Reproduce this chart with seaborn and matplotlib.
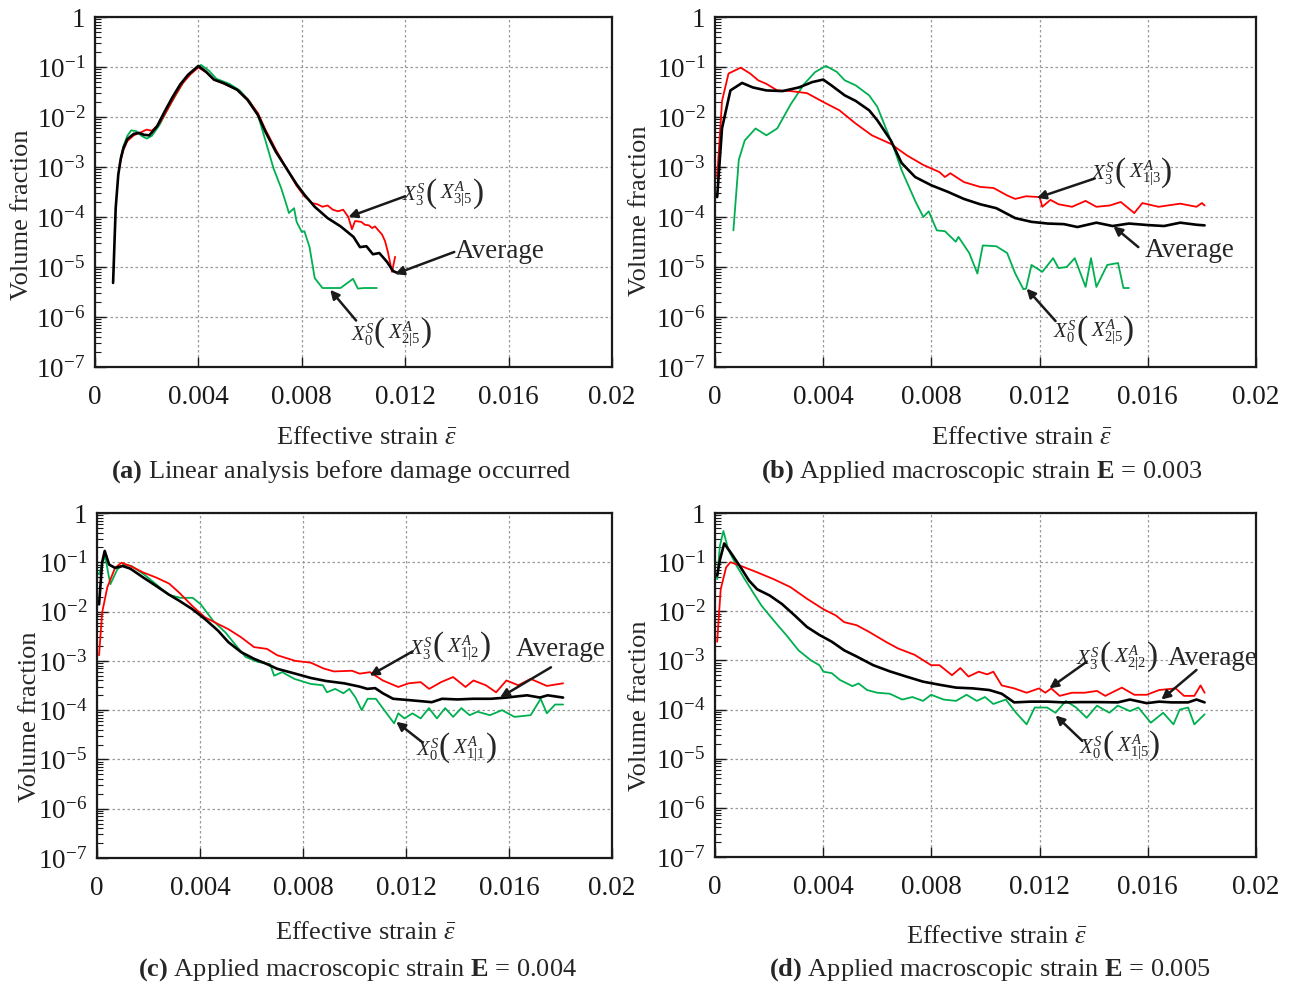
import matplotlib
matplotlib.use("Agg")
import matplotlib.pyplot as plt
from matplotlib.ticker import LogLocator, NullFormatter, FixedLocator, FixedFormatter
import seaborn as sns
import pandas as pd

# ---------------- data ----------------
# Panel (a) Linear analysis before damage occurred
A_X_AVG = [0.00070, 0.00080, 0.00090, 0.00100, 0.00110, 0.00125, 0.00150, 0.00170, 0.00190, 0.00210,
           0.00240, 0.00270, 0.00300, 0.00330, 0.00360, 0.00400, 0.00430, 0.00460, 0.00500, 0.00550,
           0.00590, 0.00630, 0.00660, 0.00700, 0.00740, 0.00780, 0.00810, 0.00850, 0.00900, 0.00950,
           0.01000, 0.01025, 0.01050, 0.01075, 0.01100, 0.01130, 0.01153, 0.01170]
A_Y_AVG = [4.8e-6, 1.5e-4, 7e-4, 1.5e-3, 2.4e-3, 3.6e-3, 4.6e-3, 4.8e-3, 4.4e-3, 4.3e-3,
           6.5e-3, 1.3e-2, 2.5e-2, 4.5e-2, 7.0e-2, 0.105, 0.080, 0.056, 0.047, 0.035,
           0.022, 0.011, 5.0e-3, 2.0e-3, 9.5e-4, 4.5e-4, 2.8e-4, 1.6e-4, 9.5e-5, 6.5e-5,
           4.0e-5, 2.5e-5, 2.6e-5, 1.8e-5, 1.9e-5, 1.26e-5, 8.3e-6, 7.6e-6]
A_X_RED = [0.00095, 0.00110, 0.00125, 0.00150, 0.00180, 0.00200, 0.00220, 0.00250, 0.00280, 0.00310,
           0.00340, 0.00370, 0.00400, 0.00430, 0.00460, 0.00500, 0.00550, 0.00590, 0.00630, 0.00660,
           0.00700, 0.00740, 0.00780, 0.00810, 0.00840, 0.00860, 0.00880, 0.00900, 0.00920, 0.00940,
           0.00960, 0.00980, 0.00994, 0.01006, 0.01030, 0.01044, 0.01060, 0.01072, 0.01083, 0.01095,
           0.01110, 0.01122, 0.01133, 0.01149, 0.01161]
A_Y_RED = [1.1e-3, 2.2e-3, 3.3e-3, 4.3e-3, 5.0e-3, 5.6e-3, 5.3e-3, 7.5e-3, 1.4e-2, 2.7e-2,
           4.8e-2, 7.2e-2, 0.098, 0.078, 0.056, 0.046, 0.035, 0.023, 0.012, 5.5e-3,
           2.2e-3, 9.5e-4, 4.2e-4, 2.6e-4, 1.9e-4, 1.8e-4, 1.6e-4, 1.7e-4, 1.4e-4, 1.3e-4,
           1.4e-4, 1.0e-4, 5.7e-5, 8.3e-5, 8.0e-5, 7.0e-5, 6.8e-5, 6.0e-5, 6.5e-5, 5.5e-5,
           4.5e-5, 3.3e-5, 2.0e-5, 8.0e-6, 1.6e-5]
A_X_GRN = [0.00100, 0.00110, 0.00125, 0.00140, 0.00160, 0.00180, 0.00200, 0.00220, 0.00250, 0.00280,
           0.00310, 0.00340, 0.00370, 0.00410, 0.00440, 0.00470, 0.00520, 0.00560, 0.00600, 0.00630,
           0.00660, 0.00690, 0.00720, 0.00740, 0.00750, 0.00770, 0.00780, 0.00800, 0.00810, 0.00830,
           0.00850, 0.00880, 0.00950, 0.00998, 0.01017, 0.01040, 0.01090]
A_Y_GRN = [1.5e-3, 2.6e-3, 4.2e-3, 5.4e-3, 5.2e-3, 4.2e-3, 3.7e-3, 4.2e-3, 7.0e-3, 1.4e-2,
           2.6e-2, 4.8e-2, 7.5e-2, 0.110, 0.085, 0.058, 0.046, 0.034, 0.020, 0.011,
           3.3e-3, 9.6e-4, 3.8e-4, 1.8e-4, 1.2e-4, 1.5e-4, 8.0e-5, 5.0e-5, 5.2e-5, 2.5e-5,
           6.0e-6, 3.8e-6, 3.8e-6, 5.8e-6, 3.7e-6, 3.8e-6, 3.8e-6]

# Panel (b) E = 0.003
B_X_RED = [0.00008, 0.00026, 0.00050, 0.00095, 0.00130, 0.00160, 0.00190, 0.00230, 0.00280, 0.00340,
           0.00400, 0.00460, 0.00520, 0.00580, 0.00650, 0.00710, 0.00770, 0.00830, 0.00850, 0.00870,
           0.00920, 0.00980, 0.01030, 0.01080, 0.01110, 0.01150, 0.01200, 0.01210, 0.01240, 0.01270,
           0.01320, 0.01370, 0.01410, 0.01460, 0.01500, 0.01550, 0.01580, 0.01640, 0.01720, 0.01780,
           0.01800, 0.01810]
B_Y_RED = [6.3e-4, 0.021, 0.074, 0.097, 0.074, 0.054, 0.046, 0.034, 0.033, 0.030,
           0.020, 0.0136, 7.4e-3, 4.3e-3, 2.9e-3, 1.7e-3, 1.1e-3, 7.9e-4, 6.3e-4, 7.5e-4,
           5.0e-4, 4.0e-4, 3.8e-4, 2.7e-4, 2.3e-4, 2.6e-4, 2.5e-4, 1.6e-4, 2.2e-4, 1.8e-4,
           1.6e-4, 2.1e-4, 1.6e-4, 1.7e-4, 2.0e-4, 1.2e-4, 1.9e-4, 1.6e-4, 1.85e-4, 1.6e-4,
           1.9e-4, 1.7e-4]
B_X_AVG = [0.00008, 0.00026, 0.00057, 0.00100, 0.00140, 0.00190, 0.00250, 0.00310, 0.00360, 0.00400,
           0.00430, 0.00480, 0.00520, 0.00570, 0.00600, 0.00650, 0.00690, 0.00740, 0.00800, 0.00860,
           0.00920, 0.00980, 0.01040, 0.01110, 0.01170, 0.01230, 0.01290, 0.01340, 0.01410, 0.01470,
           0.01530, 0.01600, 0.01660, 0.01720, 0.01780, 0.01810]
B_Y_AVG = [2.5e-4, 6.0e-3, 0.034, 0.048, 0.039, 0.034, 0.033, 0.039, 0.050, 0.056,
           0.043, 0.027, 0.021, 0.0136, 8.6e-3, 3.4e-3, 1.2e-3, 6.3e-4, 4.3e-4, 3.2e-4,
           2.3e-4, 1.8e-4, 1.5e-4, 9.5e-5, 8.0e-5, 7.4e-5, 7.2e-5, 6.3e-5, 7.7e-5, 6.6e-5,
           7.4e-5, 6.9e-5, 6.6e-5, 7.7e-5, 7.0e-5, 6.8e-5]
B_X_GRN = [0.00068, 0.00088, 0.00110, 0.00150, 0.00190, 0.00230, 0.00280, 0.00330, 0.00370, 0.00410,
           0.00450, 0.00480, 0.00520, 0.00570, 0.00600, 0.00630, 0.00660, 0.00690, 0.00740, 0.00770,
           0.00790, 0.00820, 0.00850, 0.00890, 0.00900, 0.00940, 0.00970, 0.00990, 0.01040, 0.01080,
           0.01110, 0.01140, 0.01150, 0.01170, 0.01210, 0.01250, 0.01270, 0.01300, 0.01330, 0.01370,
           0.01390, 0.01410, 0.01450, 0.01490, 0.01510, 0.01530]
B_Y_GRN = [5.4e-5, 1.4e-3, 3.4e-3, 5.9e-3, 4.3e-3, 5.9e-3, 0.018, 0.046, 0.079, 0.105,
           0.080, 0.054, 0.043, 0.027, 0.016, 6.3e-3, 2.5e-3, 8.6e-4, 2.1e-4, 1.0e-4,
           1.3e-4, 5.4e-5, 5.2e-5, 3.2e-5, 4.0e-5, 1.9e-5, 7.4e-6, 2.7e-5, 2.6e-5, 1.9e-5,
           7.4e-6, 3.6e-6, 3.7e-6, 1.1e-5, 8.0e-6, 1.5e-5, 9.5e-6, 1.0e-5, 1.5e-5, 4.0e-6,
           1.5e-5, 4.0e-6, 1.1e-5, 1.2e-5, 3.8e-6, 3.8e-6]

# Panel (c) E = 0.004
C_X_AVG = [0.00008, 0.00020, 0.00030, 0.00047, 0.00070, 0.00100, 0.00130, 0.00180, 0.00230, 0.00280,
           0.00320, 0.00370, 0.00420, 0.00470, 0.00510, 0.00560, 0.00610, 0.00660, 0.00700, 0.00770,
           0.00830, 0.00890, 0.00960, 0.01020, 0.01050, 0.01080, 0.01110, 0.01150, 0.01210, 0.01270,
           0.01300, 0.01340, 0.01400, 0.01460, 0.01530, 0.01590, 0.01670, 0.01720, 0.01750, 0.01810]
C_Y_AVG = [0.014, 0.10, 0.17, 0.090, 0.077, 0.084, 0.074, 0.049, 0.033, 0.022,
           0.0165, 0.0112, 7.0e-3, 4.1e-3, 2.4e-3, 1.5e-3, 1.1e-3, 8.6e-4, 6.9e-4, 5.5e-4,
           4.5e-4, 3.9e-4, 3.5e-4, 3.0e-4, 2.7e-4, 2.8e-4, 2.2e-4, 1.7e-4, 1.6e-4, 1.5e-4,
           1.45e-4, 1.7e-4, 1.65e-4, 1.7e-4, 1.7e-4, 1.8e-4, 2.0e-4, 1.8e-4, 2.0e-4, 1.8e-4]
C_X_RED = [0.00008, 0.00020, 0.00040, 0.00070, 0.00095, 0.00130, 0.00180, 0.00230, 0.00280, 0.00320,
           0.00370, 0.00420, 0.00470, 0.00510, 0.00560, 0.00610, 0.00660, 0.00700, 0.00770, 0.00830,
           0.00880, 0.00920, 0.00990, 0.01020, 0.01060, 0.01110, 0.01170, 0.01210, 0.01257, 0.01290,
           0.01336, 0.01383, 0.01431, 0.01462, 0.01510, 0.01550, 0.01590, 0.01636, 0.01684, 0.01747,
           0.01810]
C_Y_RED = [1.3e-3, 9.6e-3, 0.031, 0.077, 0.098, 0.084, 0.062, 0.049, 0.037, 0.024,
           0.013, 7.6e-3, 5.6e-3, 4.4e-3, 3.0e-3, 1.9e-3, 1.75e-3, 1.3e-3, 1.0e-3, 9.2e-4,
           7.0e-4, 6.1e-4, 6.3e-4, 5.5e-4, 5.9e-4, 4.0e-4, 2.95e-4, 3.5e-4, 3.7e-4, 2.7e-4,
           3.7e-4, 4.7e-4, 2.95e-4, 4.0e-4, 3.2e-4, 2.3e-4, 4.0e-4, 3.2e-4, 4.3e-4, 3.1e-4,
           3.5e-4]
C_X_GRN = [0.00008, 0.00024, 0.00032, 0.00043, 0.00052, 0.00079, 0.00103, 0.00134, 0.00182, 0.00229,
           0.00277, 0.00324, 0.00372, 0.00403, 0.00451, 0.00498, 0.00545, 0.00577, 0.00625, 0.00672,
           0.00688, 0.00719, 0.00767, 0.00830, 0.00877, 0.00893, 0.00925, 0.00957, 0.00980, 0.01004,
           0.01028, 0.01051, 0.01083, 0.01130, 0.01154, 0.01170, 0.01194, 0.01225, 0.01257, 0.01289,
           0.01320, 0.01352, 0.01383, 0.01415, 0.01447, 0.01478, 0.01526, 0.01573, 0.01621, 0.01684,
           0.01723, 0.01747, 0.01779, 0.01810]
C_Y_GRN = [0.057, 0.106, 0.134, 0.062, 0.036, 0.072, 0.090, 0.084, 0.057, 0.036,
           0.022, 0.019, 0.019, 0.014, 6.5e-3, 3.8e-3, 1.9e-3, 1.2e-3, 9.5e-4, 8.6e-4,
           5.0e-4, 5.9e-4, 4.3e-4, 3.4e-4, 3.2e-4, 2.3e-4, 2.7e-4, 2.2e-4, 2.7e-4, 1.8e-4,
           1.0e-4, 1.7e-4, 1.7e-4, 7.9e-5, 5.4e-5, 8.6e-5, 6.8e-5, 8.6e-5, 6.8e-5, 1.1e-4,
           6.8e-5, 1.1e-4, 7.3e-5, 1.1e-4, 7.9e-5, 9.3e-5, 7.9e-5, 1.0e-4, 7.3e-5, 7.9e-5,
           1.7e-4, 8.6e-5, 1.3e-4, 1.3e-4]

# Panel (d) E = 0.005
D_X_GRN = [0.00008, 0.00018, 0.00031, 0.00049, 0.00080, 0.00110, 0.00141, 0.00172, 0.00217, 0.00263,
           0.00309, 0.00355, 0.00386, 0.00401, 0.00432, 0.00462, 0.00508, 0.00531, 0.00562, 0.00600,
           0.00646, 0.00692, 0.00730, 0.00769, 0.00799, 0.00845, 0.00891, 0.00930, 0.00968, 0.00998,
           0.01029, 0.01075, 0.01113, 0.01152, 0.01182, 0.01228, 0.01259, 0.01297, 0.01335, 0.01374,
           0.01412, 0.01458, 0.01489, 0.01534, 0.01565, 0.01611, 0.01657, 0.01695, 0.01718, 0.01749,
           0.01772, 0.01810]
D_Y_GRN = [0.045, 0.213, 0.43, 0.18, 0.084, 0.045, 0.024, 0.013, 6.5e-3, 3.3e-3,
           1.6e-3, 1.0e-3, 8.0e-4, 5.9e-4, 5.5e-4, 4.0e-4, 3.0e-4, 3.4e-4, 2.5e-4, 2.2e-4,
           2.1e-4, 1.6e-4, 1.8e-4, 1.5e-4, 2.0e-4, 1.6e-4, 1.5e-4, 2.0e-4, 1.5e-4, 1.8e-4,
           1.3e-4, 1.6e-4, 8.6e-5, 5.0e-5, 1.1e-4, 1.1e-4, 8.6e-5, 1.5e-4, 1.1e-4, 6.8e-5,
           1.2e-4, 8.6e-5, 1.2e-4, 9.3e-5, 1.1e-4, 5.4e-5, 8.6e-5, 5.0e-5, 1.0e-4, 1.1e-4,
           5.0e-5, 8.0e-5]
D_X_AVG = [0.00008, 0.00018, 0.00034, 0.00057, 0.00095, 0.00126, 0.00156, 0.00202, 0.00248, 0.00294,
           0.00340, 0.00386, 0.00432, 0.00478, 0.00524, 0.00585, 0.00646, 0.00707, 0.00769, 0.00830,
           0.00891, 0.00953, 0.01014, 0.01060, 0.01106, 0.01167, 0.01228, 0.01289, 0.01351, 0.01412,
           0.01489, 0.01534, 0.01596, 0.01642, 0.01688, 0.01749, 0.01780, 0.01810]
D_Y_AVG = [0.053, 0.11, 0.24, 0.16, 0.078, 0.042, 0.028, 0.021, 0.014, 8.3e-3,
           4.8e-3, 3.3e-3, 2.4e-3, 1.6e-3, 1.2e-3, 8.0e-4, 6.0e-4, 4.7e-4, 3.7e-4, 3.2e-4,
           2.8e-4, 2.7e-4, 2.5e-4, 2.1e-4, 1.4e-4, 1.45e-4, 1.45e-4, 1.4e-4, 1.42e-4, 1.42e-4,
           1.4e-4, 1.6e-4, 1.35e-4, 1.45e-4, 1.4e-4, 1.4e-4, 1.6e-4, 1.4e-4]
D_X_RED = [0.00008, 0.00021, 0.00041, 0.00057, 0.00095, 0.00156, 0.00217, 0.00279, 0.00340, 0.00401,
           0.00447, 0.00478, 0.00524, 0.00570, 0.00631, 0.00677, 0.00738, 0.00799, 0.00830, 0.00876,
           0.00907, 0.00937, 0.00975, 0.01006, 0.01029, 0.01060, 0.01106, 0.01152, 0.01198, 0.01221,
           0.01243, 0.01274, 0.01320, 0.01366, 0.01412, 0.01443, 0.01504, 0.01550, 0.01596, 0.01642,
           0.01703, 0.01734, 0.01772, 0.01795, 0.01810]
D_Y_RED = [2.4e-3, 0.028, 0.078, 0.10, 0.084, 0.062, 0.045, 0.031, 0.018, 0.011,
           8.2e-3, 6.0e-3, 5.2e-3, 3.8e-3, 2.4e-3, 1.75e-3, 1.3e-3, 8.0e-4, 8.0e-4, 5.0e-4,
           7.0e-4, 4.7e-4, 5.9e-4, 5.2e-4, 5.9e-4, 3.1e-4, 2.7e-4, 2.2e-4, 2.7e-4, 2.2e-4,
           2.7e-4, 1.9e-4, 2.2e-4, 2.2e-4, 2.4e-4, 1.9e-4, 2.8e-4, 2.0e-4, 2.0e-4, 2.5e-4,
           2.7e-4, 1.9e-4, 1.9e-4, 3.1e-4, 2.2e-4]

X_TICKS = [0, 0.004, 0.008, 0.012, 0.016, 0.02]
X_TICK_LABELS = ["0", "0.004", "0.008", "0.012", "0.016", "0.02"]
Y_TICKS = [1e-7, 1e-6, 1e-5, 1e-4, 1e-3, 1e-2, 1e-1, 1]
Y_TICK_LABELS = [r"$10^{-7}$", r"$10^{-6}$", r"$10^{-5}$", r"$10^{-4}$",
                 r"$10^{-3}$", r"$10^{-2}$", r"$10^{-1}$", "1"]

CAPTIONS = [r"$\mathbf{(a)}$ Linear analysis before damage occurred",
            r"$\mathbf{(b)}$ Applied macroscopic strain $\mathbf{E}$ = 0.003",
            r"$\mathbf{(c)}$ Applied macroscopic strain $\mathbf{E}$ = 0.004",
            r"$\mathbf{(d)}$ Applied macroscopic strain $\mathbf{E}$ = 0.005"]
# label parts: outer symbol, inner symbol
RED_LABELS = [(r"$X_3^S$", r"$X_{3|5}^A$"), (r"$X_3^S$", r"$X_{1|3}^A$"),
              (r"$X_3^S$", r"$X_{1|2}^A$"), (r"$X_3^S$", r"$X_{2|2}^A$")]
GRN_LABELS = [(r"$X_0^S$", r"$X_{2|5}^A$"), (r"$X_0^S$", r"$X_{2|5}^A$"),
              (r"$X_0^S$", r"$X_{1|1}^A$"), (r"$X_0^S$", r"$X_{1|5}^A$")]
AVG_LABEL = "Average"
XLABEL = r"Effective strain $\bar{\varepsilon}$"
YLABEL = "Volume fraction"

# ---------------- style ----------------
sns.set_theme(style="white")
plt.rcParams["font.family"] = ["Liberation Serif", "DejaVu Serif"]
plt.rcParams["mathtext.fontset"] = "custom"
plt.rcParams["mathtext.rm"] = "Liberation Serif"
plt.rcParams["mathtext.it"] = "Liberation Serif:italic"
plt.rcParams["mathtext.bf"] = "Liberation Serif:bold"

RED = "#ff0000"
GRN = "#00b050"
BLK = "#000000"

W, H = 1294, 988
fig = plt.figure(figsize=(W / 100, H / 100), dpi=100)


def px_rect(l, r, t, b):
    return [l / W, 1 - b / H, (r - l) / W, (b - t) / H]


def species_label(ax, x, y, parts, fs=15):
    """Draw X^S_n ( X^A_{i|j} ) with tall parentheses, centred on (x, y)."""
    outer, inner = parts
    pieces = [(outer, fs, -30.0, 0.0), ("(", fs * 1.6, -13.5, 1.0),
              (inner, fs, -3.0, 0.0), (")", fs * 1.6, 20.5, 1.0)]
    for txt, size, dx, dy in pieces:
        ax.annotate(txt, xy=(x, y), xycoords="data", xytext=(dx, dy),
                    textcoords="offset points", fontsize=size, ha="left", va="center")


panels = [
    dict(rect=px_rect(95, 612, 17, 367),
         series=[(A_X_GRN, A_Y_GRN, GRN, 1.3), (A_X_RED, A_Y_RED, RED, 1.3), (A_X_AVG, A_Y_AVG, BLK, 1.9)],
         red=((0.0135, 2.8e-4), (0.0120, 2.6e-4), (0.0098, 1.0e-4)),
         avg=((0.0139, 2.0e-5), (0.0139, 2.0e-5), (0.0116, 7.2e-6)),
         grn=((0.0115, 4.5e-7), (0.0101, 8.5e-7), (0.0091, 3.5e-6)),
         xlab=(367, 438), ylab=(22, 215), cap=(341, 472)),
    dict(rect=px_rect(715, 1256, 17, 367),
         series=[(B_X_GRN, B_Y_GRN, GRN, 1.3), (B_X_RED, B_Y_RED, RED, 1.3), (B_X_AVG, B_Y_AVG, BLK, 1.9)],
         red=((0.01545, 7.4e-4), (0.01404, 5.9e-4), (0.0119, 2.4e-4)),
         avg=((0.01588, 2.1e-5), (0.01565, 2.5e-5), (0.01473, 6.5e-5)),
         grn=((0.01404, 5.0e-7), (0.01259, 8.3e-7), (0.01152, 3.7e-6)),
         xlab=(1022, 438), ylab=(640, 211), cap=(982, 472)),
    dict(rect=px_rect(97, 612, 513, 858),
         series=[(C_X_GRN, C_Y_GRN, GRN, 1.3), (C_X_RED, C_Y_RED, RED, 1.3), (C_X_AVG, C_Y_AVG, BLK, 1.9)],
         red=((0.01375, 1.8e-3), (0.01225, 1.55e-3), (0.01059, 5.0e-4)),
         avg=((0.01628, 1.7e-3), (0.01763, 7.4e-4), (0.01565, 1.8e-4)),
         grn=((0.0140, 1.6e-5), (0.01265, 2.2e-5), (0.01162, 5.8e-5)),
         xlab=(366, 933), ylab=(30, 717), cap=(358, 970)),
    dict(rect=px_rect(715, 1256, 513, 857),
         series=[(D_X_GRN, D_Y_GRN, GRN, 1.3), (D_X_RED, D_Y_RED, RED, 1.3), (D_X_AVG, D_Y_AVG, BLK, 1.9)],
         red=((0.01490, 1.1e-3), (0.01374, 9.4e-4), (0.01236, 2.7e-4)),
         avg=((0.01672, 1.1e-3), (0.0178, 6.4e-4), (0.0165, 1.6e-4)),
         grn=((0.0150, 1.7e-5), (0.01358, 2.3e-5), (0.01259, 7.6e-5)),
         xlab=(997, 937), ylab=(640, 706), cap=(990, 970)),
]

arrow_kw = dict(arrowstyle="-|>", color="k", lw=1.8, mutation_scale=13, shrinkA=0, shrinkB=0)

for i, p in enumerate(panels):
    ax = fig.add_axes(p["rect"])
    for xs, ys, col, lw in p["series"]:
        df = pd.DataFrame({"x": xs, "y": ys})
        sns.lineplot(data=df, x="x", y="y", ax=ax, color=col, lw=lw, sort=False,
                     estimator=None, legend=False)
    ax.set_yscale("log")
    ax.set_xlim(0, 0.02)
    ax.set_ylim(1e-7, 1)
    ax.xaxis.set_major_locator(FixedLocator(X_TICKS))
    ax.xaxis.set_major_formatter(FixedFormatter(X_TICK_LABELS))
    ax.yaxis.set_major_locator(FixedLocator(Y_TICKS))
    ax.yaxis.set_major_formatter(FixedFormatter(Y_TICK_LABELS))
    ax.yaxis.set_minor_locator(LogLocator(base=10, subs=range(2, 10), numticks=20))
    ax.yaxis.set_minor_formatter(NullFormatter())
    ax.set_xlabel("")
    ax.set_ylabel("")
    ax.grid(True, which="major", color="#9a9a9a", linestyle=(0, (2, 2)), lw=0.9)
    ax.tick_params(axis="both", which="both", direction="in", colors="k",
                   left=True, bottom=True, right=False, top=False)
    ax.tick_params(axis="y", which="major", length=8, width=1, pad=7, labelsize=19.5)
    ax.tick_params(axis="y", which="minor", length=4, width=0.8)
    ax.tick_params(axis="x", which="major", length=7, width=1, pad=13, labelsize=19.5)
    for s in ax.spines.values():
        s.set_color("k")
        s.set_linewidth(1.6)
    ax.set_facecolor("white")

    # annotations
    (tx, ty), tail, head = p["red"]
    species_label(ax, tx, ty, RED_LABELS[i])
    ax.annotate("", xy=head, xytext=tail, arrowprops=arrow_kw)
    (tx, ty), tail, head = p["avg"]
    ax.text(tx, ty, AVG_LABEL, fontsize=19.5, ha="left", va="center")
    ax.annotate("", xy=head, xytext=tail, arrowprops=arrow_kw)
    (tx, ty), tail, head = p["grn"]
    species_label(ax, tx, ty, GRN_LABELS[i])
    ax.annotate("", xy=head, xytext=tail, arrowprops=arrow_kw)

    xl, yl = p["xlab"]
    fig.text(xl / W, 1 - yl / H, XLABEL, fontsize=19, ha="center", va="center")
    xl, yl = p["ylab"]
    fig.text(xl / W, 1 - yl / H, YLABEL, fontsize=19, ha="center", va="center", rotation=90)
    xl, yl = p["cap"]
    fig.text(xl / W, 1 - yl / H, CAPTIONS[i], fontsize=19, ha="center", va="center")

fig.savefig("out.png", dpi=100, facecolor="white")
